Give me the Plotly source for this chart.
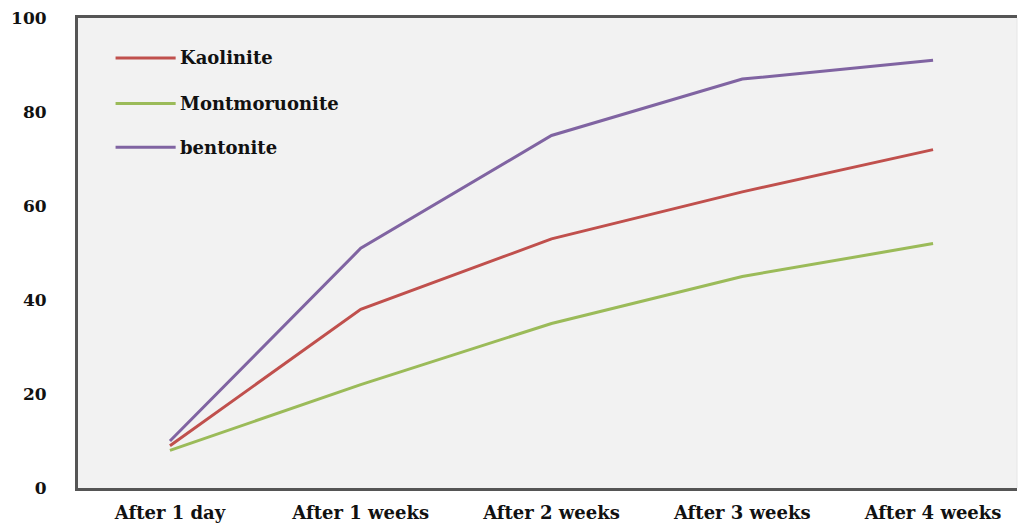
import plotly.graph_objects as go

categories = ["After 1 day", "After 1 weeks", "After 2 weeks", "After 3 weeks", "After 4 weeks"]
series_names = ["Kaolinite", "Montmoruonite", "bentonite"]
kaolinite = [9, 38, 53, 63, 72]
montmorillonite = [8, 22, 35, 45, 52]
bentonite = [10, 51, 75, 87, 91]
y_ticks = [0, 20, 40, 60, 80, 100]

colors = ["#c0504d", "#9bbb59", "#8064a2"]
values = [kaolinite, montmorillonite, bentonite]
xpos = list(range(len(categories)))

FONT = "DejaVu Serif"

fig = go.Figure()
for name, vals, col in zip(series_names, values, colors):
    fig.add_trace(go.Scatter(x=xpos, y=vals, mode="lines", name=name,
                             line=dict(color=col, width=3), showlegend=False))

# manual legend (inside plot, top-left)
leg_y = [0.915, 0.818, 0.725]
for name, col, yy in zip(series_names, colors, leg_y):
    fig.add_shape(type="line", xref="paper", yref="paper",
                  x0=0.040, x1=0.104, y0=yy, y1=yy,
                  line=dict(color=col, width=3))
    fig.add_annotation(xref="paper", yref="paper", x=0.107, y=yy, text=name,
                       showarrow=False, xanchor="left", yanchor="middle",
                       font=dict(family=FONT, size=18, color="#111111", weight="bold"))

# right border (light)
fig.add_shape(type="line", xref="paper", yref="paper", x0=1, x1=1, y0=0, y1=1,
              line=dict(color="#e6e6e6", width=1))

fig.update_layout(
    width=1022, height=526,
    margin=dict(l=78, r=5, t=18, b=38, autoexpand=False),
    paper_bgcolor="white",
    plot_bgcolor="#f2f2f2",
    xaxis=dict(
        range=[-0.482, 4.44], automargin=False,
        tickmode="array", tickvals=xpos, ticktext=categories,
        showgrid=False, zeroline=False,
        showline=True, mirror=True, linecolor="#555555", linewidth=3,
        ticks="", ticklabelstandoff=6,
        tickfont=dict(family=FONT, size=18, color="#111111", weight="bold"),
    ),
    yaxis=dict(
        range=[0, 100], tickmode="array", tickvals=y_ticks, automargin=False,
        showgrid=False, zeroline=False,
        showline=True, linecolor="#555555", linewidth=3,
        ticks="", ticklabelstandoff=25,
        tickfont=dict(family=FONT, size=17, color="#111111", weight="bold"),
    ),
)

fig.write_html("out.html", config={"displayModeBar": False},
               post_script="document.body.style.margin='0';")
